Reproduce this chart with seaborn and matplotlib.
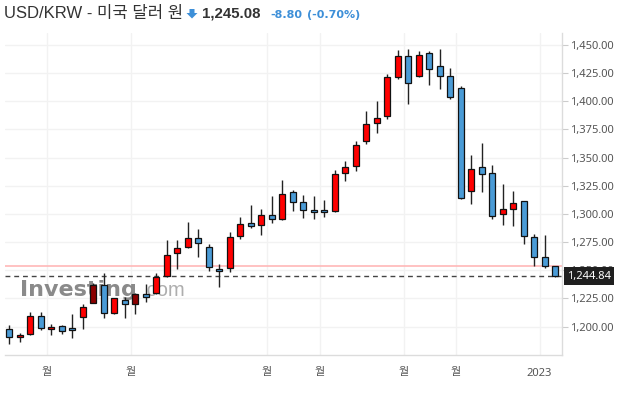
# -*- coding: utf-8 -*-
# USD/KRW 주간 캔들 차트 (Investing.com 스타일)
import numpy as np
import pandas as pd
import matplotlib
matplotlib.use('Agg')
import matplotlib.pyplot as plt
import matplotlib.transforms as mtrans
from matplotlib.patches import Polygon
import seaborn as sns

# ==================== 데이터 ====================
opens = [1197.5, 1190.4, 1193.0, 1209.0, 1197.5, 1200.1, 1198.7, 1208.1, 1221.2, 1236.6,
         1211.7, 1223.8, 1219.7, 1228.6, 1229.5, 1244.6, 1265.0, 1270.3, 1278.3, 1270.3,
         1250.8, 1251.7, 1280.1, 1291.6, 1289.9, 1298.7, 1295.2, 1319.2, 1310.3, 1303.2,
         1303.2, 1302.3, 1336.0, 1342.2, 1364.4, 1380.4, 1386.6, 1421.3, 1439.9, 1422.2,
         1442.6, 1431.1, 1422.2, 1411.5, 1320.0, 1341.4, 1336.0, 1299.6, 1304.1, 1311.2,
         1279.2, 1261.4, 1253.4]
highs = [1201.3, 1194.5, 1213.2, 1212.6, 1201.9, 1201.0, 1210.8, 1219.7, 1238.9, 1247.2,
         1225.6, 1226.2, 1230.0, 1238.0, 1247.2, 1276.5, 1276.5, 1292.5, 1286.3, 1273.3,
         1255.2, 1283.6, 1296.9, 1307.9, 1304.1, 1315.6, 1329.8, 1321.5, 1316.5, 1315.6,
         1312.0, 1338.7, 1346.7, 1364.4, 1391.1, 1400.0, 1423.9, 1445.3, 1446.2, 1444.4,
         1444.4, 1446.2, 1429.3, 1413.3, 1352.0, 1362.7, 1343.1, 1326.3, 1320.0, 1311.5,
         1281.9, 1281.0, 1253.6]
lows = [1184.5, 1186.2, 1192.5, 1196.6, 1192.7, 1193.3, 1189.5, 1197.5, 1220.6, 1207.3,
        1210.8, 1207.3, 1210.8, 1221.5, 1228.9, 1243.7, 1250.8, 1270.0, 1261.4, 1249.3,
        1234.8, 1248.4, 1277.4, 1287.2, 1281.0, 1292.2, 1295.0, 1302.3, 1296.1, 1295.2,
        1297.0, 1302.0, 1328.9, 1337.8, 1361.8, 1371.6, 1384.0, 1419.5, 1397.3, 1421.8,
        1414.2, 1410.6, 1401.7, 1313.5, 1308.5, 1319.2, 1295.2, 1289.9, 1289.0, 1273.0,
        1253.4, 1251.7, 1243.7]
closes = [1190.4, 1192.4, 1209.0, 1198.4, 1199.6, 1195.6, 1196.6, 1217.3, 1236.6, 1211.7,
          1225.0, 1219.7, 1228.6, 1226.5, 1243.7, 1263.2, 1269.4, 1278.3, 1273.9, 1252.5,
          1249.0, 1279.2, 1290.7, 1289.0, 1298.7, 1295.2, 1317.4, 1310.3, 1303.2, 1301.4,
          1301.4, 1335.1, 1341.4, 1360.9, 1379.5, 1384.9, 1421.3, 1439.9, 1416.0, 1440.8,
          1428.4, 1422.2, 1403.5, 1313.8, 1339.6, 1335.1, 1297.8, 1304.1, 1309.4, 1280.1,
          1261.4, 1253.4, 1245.08]

# 워터마크 아래에 가려져 어둡게 보이는 캔들
shaded = [8, 12]

x_tick_pos = [3.6, 11.6, 24.5, 29.55, 37.55, 42.5, 50.5]
x_tick_labels = ['월', '월', '월', '월', '월', '월', '2023']
y_ticks = [1200, 1225, 1250, 1275, 1300, 1325, 1350, 1375, 1400, 1425, 1450]

prev_close = 1253.88
last_price = 1244.84

# ==================== 스타일 ====================
sns.set_theme(style='white')
plt.rcParams['font.family'] = ['Noto Sans', 'Noto Sans CJK KR', 'DejaVu Sans']

W, H = 626, 394
fig = plt.figure(figsize=(W / 100, H / 100), dpi=100)
ax = fig.add_axes([5 / W, 39 / H, 557 / W, 322 / H])

df = pd.DataFrame({'open': opens, 'high': highs, 'low': lows, 'close': closes})
df['x'] = np.arange(len(df))
up = df['close'] >= df['open']
colors = np.where(up, '#ff0000', '#4a9bd6').astype(object)
for i in shaded:
    colors[i] = '#8b0000'

# 꼬리
ax.vlines(df['x'], df['low'], df['high'], color='#222222', lw=1.0, zorder=3)
# 몸통
body = (df['close'] - df['open']).abs().clip(lower=1.3)
ax.bar(df['x'], body, bottom=df[['open', 'close']].min(axis=1), width=0.58,
       color=colors, edgecolor='#111111', linewidth=0.9, zorder=4)

# 기준선
ax.axhline(prev_close, color='#ffb8b8', lw=1.2, zorder=2)
ax.axhline(last_price, color='#444444', lw=1.0, ls=(0, (3.5, 2.8)), zorder=2)

ax.set_xlim(-0.41, 52.64)
ax.set_ylim(1174.7, 1460.7)

ax.set_yticks(y_ticks, [f'{v:,.2f}' for v in y_ticks])
ax.yaxis.tick_right()
ax.tick_params(axis='y', length=4, width=0.8, color='#cccccc', labelsize=8,
               labelcolor='#555555', pad=2)
ax.set_xticks(x_tick_pos, x_tick_labels)
ax.tick_params(axis='x', length=4, width=0.8, color='#cccccc', labelsize=8,
               labelcolor='#555555', pad=5)

for s in ['left', 'top']:
    ax.spines[s].set_visible(False)
for s in ['right', 'bottom']:
    ax.spines[s].set_color('#dcdcdc')
    ax.spines[s].set_linewidth(1.0)

ax.grid(True, color='#f2f2f2', lw=1.0)
ax.set_axisbelow(True)

# 현재가 라벨 (1,250.00 눈금 라벨을 덮음)
trans = mtrans.blended_transform_factory(ax.transAxes, ax.transData)
ax.text(1.0 + 5 / 557, last_price, f'{last_price:,.2f}', transform=trans,
        ha='left', va='center', color='white', fontsize=8, zorder=10, clip_on=False,
        bbox=dict(boxstyle='square,pad=0.3', fc='#1f1f1f', ec='none'))

# 워터마크
ax.text(20 / W, 1 - 296 / H, 'Investing', transform=fig.transFigure,
        family='DejaVu Sans', fontweight='bold', fontsize=16,
        color='#7d7d7d', alpha=0.9, zorder=1)
ax.text(141 / W, 1 - 296 / H, '.com', transform=fig.transFigure,
        family='Liberation Sans', fontsize=14.5, color='#a5a5a5', alpha=0.9, zorder=1)

# ==================== 제목 ====================
fig.text(4 / W, 1 - 18 / H, 'USD/KRW - 미국 달러 원', fontsize=12,
         family=['Liberation Sans', 'Noto Sans CJK KR'], color='#333333', va='baseline')
arrow = [(189.5, 9), (194.5, 9), (194.5, 13), (197.5, 13), (192, 18.5), (186.5, 13), (189.5, 13)]
fig.patches.append(Polygon([(px / W, 1 - py / H) for px, py in arrow], closed=True,
                           transform=fig.transFigure, fc='#3d8fd8', ec='none'))
fig.text(202 / W, 1 - 18 / H, '1,245.08', fontsize=10.8, fontweight='bold',
         family='Liberation Sans', color='#333333', va='baseline')
fig.text(270 / W, 1 - 18 / H, '-8.80', fontsize=8, fontweight='bold',
         family='DejaVu Sans', color='#3d8fd8', va='baseline')
fig.text(307 / W, 1 - 18 / H, '(-0.70%)', fontsize=8, fontweight='bold',
         family='DejaVu Sans', color='#3d8fd8', va='baseline')

fig.savefig('out.png', dpi=100)
